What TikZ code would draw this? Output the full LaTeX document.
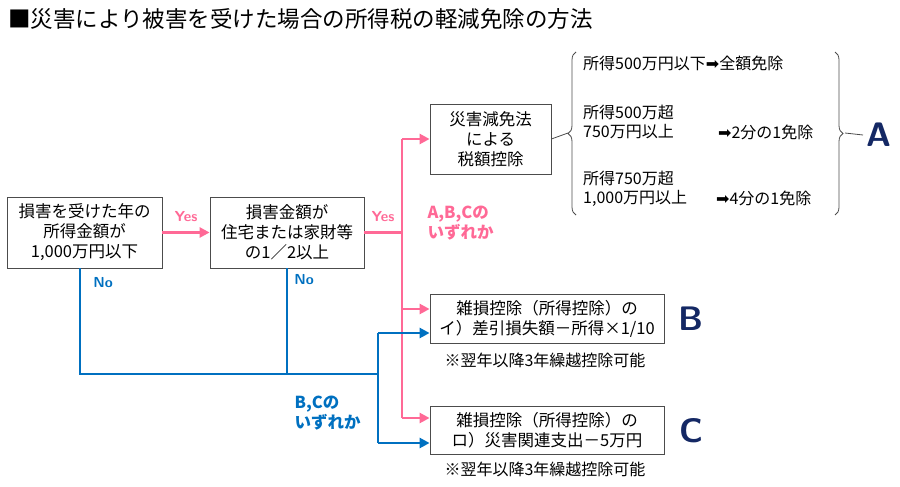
\documentclass[tikz,border=0pt]{standalone}
\usepackage{fontspec}
\setmainfont{Noto Sans CJK JP}
\newfontfamily\symfont{DejaVu Sans}
\usetikzlibrary{arrows.meta}
\usetikzlibrary{decorations.pathreplacing}
\definecolor{pinkline}{RGB}{255,105,150}
\definecolor{blueline}{RGB}{0,112,192}
\definecolor{navy}{RGB}{20,40,100}
\newcommand{\arr}{{\symfont\char"27A1}}
\tikzset{
	box/.style={draw=black!70,line width=0.8pt,fill=white,align=center,font=\fontsize{16.5}{20}\selectfont,inner sep=0pt},
	txt/.style={anchor=west,font=\fontsize{16}{19}\selectfont,inner sep=0pt},
	pinkarr/.style={draw=pinkline,line width=2.6pt,-{Triangle[length=10pt,width=10pt]}},
	bluearr/.style={draw=blueline,line width=2.6pt,-{Triangle[length=10pt,width=10pt]}},
	big/.style={font=\sffamily\bfseries\fontsize{34}{34}\selectfont,text=navy}
}
\begin{document}
\begin{tikzpicture}[x=1pt,y=-1pt]
	\useasboundingbox (0,0) rectangle (900,487);
	\node[anchor=west,font=\fontsize{22.5}{26}\selectfont,inner sep=0pt] (title) at (8,19) {■災害により被害を受けた場合の所得税の軽減免除の方法};
	% boxes
	\node[box,minimum width=155pt,minimum height=71pt] (inc) at (84.5,232.5) {損害を受けた年の\\所得金額が\\1,000万円以下};
	\node[box,minimum width=154pt,minimum height=71pt] (dmg) at (287,232.5) {損害金額が\\住宅または家財等\\の1／2以上};
	\node[box,minimum width=121pt,minimum height=70pt] (gen) at (490.5,139) {災害減免法\\による\\税額控除};
	\node[box,minimum width=234pt,minimum height=49pt] (zb) at (547,318.5) {雑損控除（所得控除）の\\イ）差引損失額－所得×1/10};
	\node[box,minimum width=234pt,minimum height=48pt] (zc) at (547,430) {雑損控除（所得控除）の\\ロ）災害関連支出－5万円};
	\node[font=\fontsize{16}{19}\selectfont] (nb) at (545,360) {※翌年以降3年繰越控除可能};
	\node[font=\fontsize{16}{19}\selectfont] (nc) at (545,469) {※翌年以降3年繰越控除可能};
	% pink (Yes) route
	\coordinate (py) at (402,232.5);
	\draw[pinkarr] (inc.east) -- (dmg.east-|dmg.west);
	\draw[draw=pinkline,line width=2.6pt] (dmg.east) -- (py);
	\draw[draw=pinkline,line width=2.6pt] (402,139) -- (402,418);
	\draw[pinkarr] (402,139) -- (gen.west);
	\draw[pinkarr] (402,309) -- (zb.west|-402,309);
	\draw[pinkarr] (402,418) -- (zc.west|-402,418);
	\node[text=pinkline,font=\sffamily\bfseries\fontsize{14.5}{16}\selectfont] (y1) at (186,217) {Yes};
	\node[text=pinkline,font=\sffamily\bfseries\fontsize{14.5}{16}\selectfont] (y2) at (383,217) {Yes};
	\node[text=pinkline,font=\bfseries\fontsize{16.5}{20}\selectfont,align=left,anchor=west] (abc) at (424,223) {A,B,Cの\\いずれか};
	% blue (No) route
	\draw[draw=blueline,line width=2.6pt] (80,268) -- (80,374) -- (378,374);
	\draw[draw=blueline,line width=2.6pt] (287,268) -- (287,374);
	\draw[draw=blueline,line width=2.6pt] (378,333) -- (378,443);
	\draw[bluearr] (378,333) -- (zb.west|-378,333);
	\draw[bluearr] (378,443) -- (zc.west|-378,443);
	\node[text=blueline,font=\sffamily\bfseries\fontsize{14.5}{16}\selectfont] (n1) at (103,283) {No};
	\node[text=blueline,font=\sffamily\bfseries\fontsize{14.5}{16}\selectfont] (n2) at (304,280) {No};
	\node[text=blueline,font=\bfseries\fontsize{16.5}{20}\selectfont,align=left,anchor=west] (bc) at (291,413) {B,Cの\\いずれか};
	% reductions
	\draw[black!70,line width=0.8pt,decorate,decoration={brace,mirror,amplitude=8pt}] (576,52) -- (576,215);
	\draw[black!70,line width=0.8pt] (gen.east) -- (568,133);
	\node[txt] (r1) at (583,63) {所得500万円以下\arr 全額免除};
	\node[txt] (r2) at (583,112) {所得500万超};
	\node[txt] (r3) at (583,132) {750万円以上};
	\node[txt] (r4) at (718,132) {\arr 2分の1免除};
	\node[txt] (r5) at (583,178) {所得750万超};
	\node[txt] (r6) at (583,198) {1,000万円以上};
	\node[txt] (r7) at (716,198) {\arr 4分の1免除};
	\draw[black!70,line width=0.8pt,decorate,decoration={brace,amplitude=8pt}] (835,52) -- (835,215);
	\coordinate (bt) at (845,133);
	\node[big] (la) at (879,135) {A};
	\draw[black!70,line width=0.8pt] (bt) -- (la.west);
	\node[big] (lb) at (691,319) {B};
	\node[big] (lc) at (691,431) {C};
\end{tikzpicture}
\end{document}
